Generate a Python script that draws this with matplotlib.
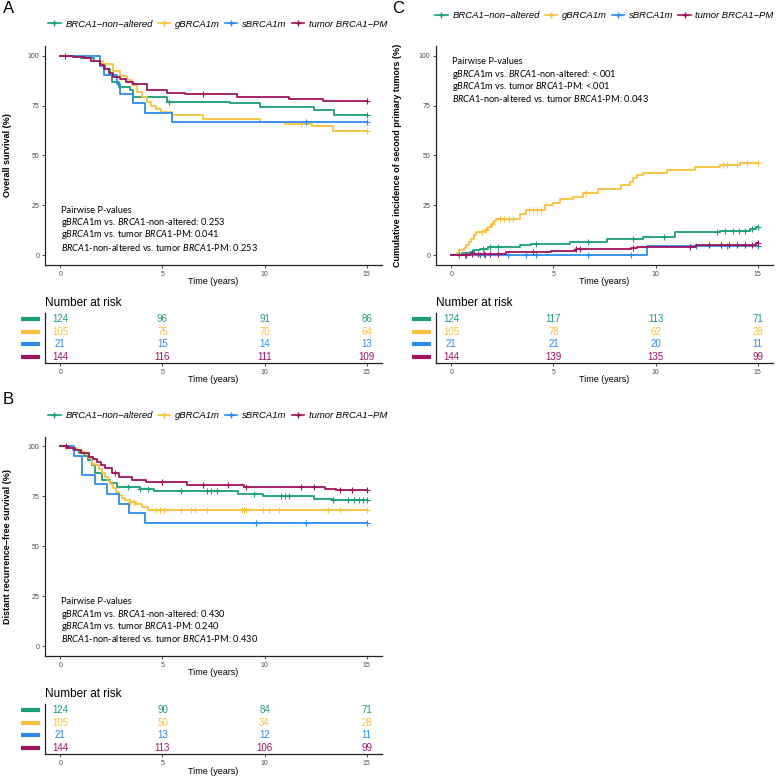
import numpy as np
import matplotlib
matplotlib.use("Agg")
import matplotlib.pyplot as plt
from matplotlib.lines import Line2D

plt.rcParams["font.family"] = ["Liberation Sans", "DejaVu Sans"]
plt.rcParams["mathtext.fontset"] = "custom"
plt.rcParams["mathtext.rm"] = "Lato"
plt.rcParams["mathtext.it"] = "Lato:italic"

# groups / colours
groups = ["BRCA1\u2212non\u2212altered", "gBRCA1m", "sBRCA1m", "tumor BRCA1\u2212PM"]
colors = ["#1B9E77", "#F9C23C", "#2A8CF0", "#A0135E"]
risk_times = [0, 5, 10, 15]

# ---- A: overall survival (%) ----
os_nonalt_t = [0, 1.0, 1.63, 1.95, 2.2, 2.44, 2.53, 2.85, 3.42, 3.58, 5.2, 8.3, 9.8, 12.4, 13.4]
os_nonalt_s = [100, 99.2, 97.6, 96, 93.5, 90.5, 87, 84.6, 82.9, 79.6, 77, 76.2, 74.5, 72.9, 70.4]
os_nonalt_c = [5.3, 15.0]
os_g_t = [0, 1.5, 2.1, 2.6, 2.9, 3.25, 3.5, 3.75, 4.0, 4.23, 4.45, 4.7, 4.95, 5.45, 7.0, 9.77, 11.0, 12.3, 13.35]
os_g_s = [100, 97.5, 95.8, 92.5, 90, 88, 85.5, 82, 79.6, 77, 75, 73.5, 72, 70.4, 68.3, 67, 66, 65, 62.5]
os_g_c = [11.8, 15.0]
os_s_t = [0, 1.95, 2.12, 2.77, 2.93, 3.58, 4.15, 5.45]
os_s_s = [100, 95.2, 90.5, 85.7, 81.0, 76.2, 71.4, 66.7]
os_s_c = [12.05, 15.0]
os_pm_t = [0, 0.6, 1.14, 1.5, 1.95, 2.15, 2.36, 2.6, 2.93, 3.2, 3.58, 4.23, 5.2, 6.1, 8.63, 11.2, 12.85]
os_pm_s = [100, 99.3, 98.8, 97.5, 95.5, 93.5, 91.3, 89.5, 88.3, 87, 86, 83, 81.6, 80.8, 79.6, 78.6, 77.6]
os_pm_c = [0.25, 7.0, 15.0]
risk_a = [[124, 96, 91, 86], [105, 75, 70, 64], [21, 15, 14, 13], [144, 116, 111, 109]]
pv_a = ["0.253", "0.041", "0.253"]

# ---- B: distant recurrence-free survival (%) ----
drfs_nonalt_t = [0, 0.3, 0.6, 0.9, 1.15, 1.35, 1.55, 1.71, 2.04, 2.44, 2.77, 3.9, 4.6, 8.7, 9.9, 12.4, 13.35]
drfs_nonalt_s = [100, 99.2, 98.4, 96.8, 95, 93, 90.5, 86.6, 83.2, 81.5, 79.5, 78.5, 77.5, 76.3, 75, 73.8, 73]
drfs_nonalt_c = [3.3, 3.9, 4.3, 5.9, 7.2, 7.4, 7.65, 9.5, 10.8, 11.0, 11.2, 13.35, 14.1, 14.4, 14.6, 14.8, 15.0]
drfs_g_t = [0, 0.5, 0.8, 1.06, 1.2, 1.38, 1.55, 1.7, 1.87, 2.05, 2.2, 2.32, 2.44, 2.6, 2.72, 2.85, 3.0,
            3.17, 3.4, 3.66, 3.99, 4.31]
drfs_g_s = [100, 99, 98.1, 97.1, 96.2, 94.3, 91.4, 90.5, 88.6, 86.7, 84.8, 82.9, 81.0, 79.0, 77.1, 75.7,
            74.3, 73.3, 72.4, 71.4, 69.5, 68.1]
drfs_g_c = [3.4, 3.6, 4.7, 4.9, 5.1, 5.9, 6.4, 6.6, 7.2, 8.9, 9.0, 9.1, 9.9, 10.2, 10.7, 13.1, 13.7, 15.0]
drfs_s_t = [0, 0.65, 1.06, 1.71, 2.28, 2.85, 3.35, 4.15]
drfs_s_s = [100, 95.2, 85.7, 81.0, 76.2, 71.4, 66.7, 61.9]
drfs_s_c = [9.6, 12.05, 15.0]
drfs_pm_t = [0, 0.4, 0.73, 1.0, 1.38, 1.6, 1.79, 2.0, 2.2, 2.52, 2.85, 3.5, 4.2, 6.2, 9.0, 12.95, 13.5]
drfs_pm_s = [100, 99.3, 98.2, 96.5, 94.9, 93.5, 92.4, 90.8, 89, 86.6, 84.9, 83.3, 82.3, 80.7, 79.6, 78.8, 78]
drfs_pm_c = [0.3, 2.7, 5.0, 7.0, 8.2, 9.1, 11.8, 12.4, 13.7, 14.3, 15.0]
risk_b = [[124, 90, 84, 71], [105, 50, 34, 28], [21, 13, 12, 11], [144, 113, 106, 99]]
pv_b = ["0.430", "0.240", "0.430"]

# ---- C: cumulative incidence of second primary tumors (%) ----
ci_nonalt_t = [0, 0.5, 0.9, 1.1, 1.39, 1.8, 3.35, 3.9, 5.8, 7.6, 9.4, 10.95, 13.15, 14.6, 14.9]
ci_nonalt_s = [0, 0.8, 1.6, 2.4, 3.2, 4.0, 4.9, 5.7, 6.6, 8.2, 9.0, 11.4, 12.3, 13.2, 14.0]
ci_nonalt_c = [0.4, 1.0, 1.55, 1.9, 2.3, 4.17, 6.7, 8.9, 10.4, 13.0, 13.4, 13.8, 14.1, 14.4, 14.7, 15.0]
ci_g_t = [0, 0.3, 0.4, 0.6, 0.73, 0.85, 0.98, 1.1, 1.22, 1.63, 1.8, 1.96, 2.1, 2.2, 3.35, 3.68, 4.57, 4.98,
          5.31, 5.96, 6.45, 7.19, 8.33, 8.74, 8.9, 9.07, 9.39, 10.54, 11.93, 13.15, 14.13]
ci_g_s = [0, 1.2, 2.4, 3.6, 4.9, 6.5, 8.2, 10, 11.6, 12.4, 14, 15.8, 17, 18.3, 20.8, 22.5, 25, 26,
          28.4, 29.2, 31, 33.4, 35.1, 36.7, 38.5, 40.1, 41, 42.6, 44.3, 45.1, 46]
ci_g_c = [1.5, 1.7, 2.0, 2.4, 2.6, 2.8, 3.0, 3.8, 4.0, 4.2, 4.4, 6.6, 13.3, 13.5, 14.0, 14.5, 15.0]
ci_s_t = [0, 9.59]
ci_s_s = [0, 4.76]
ci_s_c = [0.4, 0.65, 1.39, 1.63, 2.77, 3.67, 4.17, 6.7, 8.82, 12.0, 13.5, 15.0]
ci_pm_t = [0, 0.9, 2.7, 4.9, 6.1, 8.8, 9.07, 12.0, 14.9]
ci_pm_s = [0, 0.7, 1.4, 2.1, 2.8, 3.5, 4.2, 5.0, 6.0]
ci_pm_c = [0.7, 1.0, 1.3, 1.6, 1.9, 2.3, 4.0, 6.1, 6.3, 8.9, 11.7, 12.6, 13.2, 13.6, 14.0, 14.4, 14.7, 15.0]
risk_c = [[124, 117, 113, 71], [105, 78, 62, 28], [21, 21, 20, 11], [144, 139, 135, 99]]
pv_c = ["<.001", "<.001", "0.043"]

W, H = 778, 776
fig = plt.figure(figsize=(W / 100, H / 100), dpi=100)


def px_axes(left, top, right, bottom):
    return fig.add_axes([left / W, 1 - bottom / H, (right - left) / W, (bottom - top) / H])


def step_curve(ax, t, s, cens, color):
    t = np.asarray(t)
    s = np.asarray(s)
    ax.step(np.append(t, 15), np.append(s, s[-1]), where="post", color=color, lw=1.3)
    c = np.asarray(cens)
    cy = s[np.searchsorted(t, c, side="right") - 1]
    ax.plot(c, cy, ls="none", marker="+", ms=5, mew=0.8, color=color)


def style_axes(ax):
    for side in ["top", "right"]:
        ax.spines[side].set_visible(False)
    for side in ["left", "bottom"]:
        ax.spines[side].set_color("#222222")
        ax.spines[side].set_linewidth(0.9)
    ax.tick_params(length=2, width=0.6, color="#333333", labelsize=5, labelcolor="#4D4D4D", pad=2)
    ax.set_xlim(-0.75, 15.75)
    ax.set_xticks(risk_times)


def main_panel(ax, curves, ylabel, pvals, ptop, leg_x, leg_y):
    for (t, s, c), col in zip(curves, colors):
        step_curve(ax, t, s, c, col)
    style_axes(ax)
    ax.set_ylim(-5, 105)
    ax.set_yticks([0, 25, 50, 75, 100])
    ax.set_xlabel("Time (years)", fontsize=6.5)
    ax.xaxis.set_label_coords(0.5, -0.055)
    ax.set_ylabel(ylabel, fontsize=6.5, fontweight="bold")
    ax.yaxis.set_label_coords(-0.097, 0.5)
    handles = [Line2D([], [], color=c, lw=1.2, marker="+", ms=5, mew=1.0) for c in colors]
    ax.legend(handles, groups, loc="center", bbox_to_anchor=(leg_x, leg_y), ncol=4, frameon=False,
              prop={"style": "italic", "size": 6.8}, handlelength=1.3, handletextpad=0.5,
              columnspacing=0.55, borderaxespad=0)
    lines = ["Pairwise P-values",
             r"g$\mathit{BRCA1}$m vs. $\mathit{BRCA1}$-non-altered: " + pvals[0],
             r"g$\mathit{BRCA1}$m vs. tumor $\mathit{BRCA1}$-PM: " + pvals[1],
             r"$\mathit{BRCA1}$-non-altered vs. tumor $\mathit{BRCA1}$-PM: " + pvals[2]]
    for i, line in enumerate(lines):
        ax.text(0.05, ptop - i * 6.2, line, fontsize=6.7, family="Lato", va="center", ha="left")


def risk_panel(ax, counts):
    style_axes(ax)
    ax.set_ylim(0, 4)
    ax.set_yticks([])
    for i, (row, col) in enumerate(zip(counts, colors)):
        y = 3.5 - i
        for t, n in zip(risk_times, row):
            ax.text(t, y, str(n), color=col, fontsize=7, ha="center", va="center")
        ax.plot([-0.072, -0.016], [y, y], color=col, lw=3,
                transform=ax.get_yaxis_transform(), clip_on=False, solid_capstyle="butt")
    ax.text(0, 1.14, "Number at risk", fontsize=8.5, transform=ax.transAxes, ha="left", va="baseline")
    ax.set_xlabel("Time (years)", fontsize=6.5)
    ax.xaxis.set_label_coords(0.5, -0.25)


# panel A
ax_a = px_axes(45, 46, 382, 265)
main_panel(ax_a, [(os_nonalt_t, os_nonalt_s, os_nonalt_c), (os_g_t, os_g_s, os_g_c),
                  (os_s_t, os_s_s, os_s_c), (os_pm_t, os_pm_s, os_pm_c)],
           "Overall survival (%)", pv_a, 22.5, 0.512, 1.1)
risk_panel(px_axes(45, 313, 382, 363), risk_a)

# panel B
ax_b = px_axes(45, 436.5, 382, 656)
main_panel(ax_b, [(drfs_nonalt_t, drfs_nonalt_s, drfs_nonalt_c), (drfs_g_t, drfs_g_s, drfs_g_c),
                  (drfs_s_t, drfs_s_s, drfs_s_c), (drfs_pm_t, drfs_pm_s, drfs_pm_c)],
           "Distant recurrence\u2212free survival (%)", pv_b, 22.2, 0.512, 1.095)
risk_panel(px_axes(45, 704, 382, 754), risk_b)

# panel C
ax_c = px_axes(436, 46, 773, 265)
main_panel(ax_c, [(ci_nonalt_t, ci_nonalt_s, ci_nonalt_c), (ci_g_t, ci_g_s, ci_g_c),
                  (ci_s_t, ci_s_s, ci_s_c), (ci_pm_t, ci_pm_s, ci_pm_c)],
           "Cumulative incidence of second primary tumors (%)", pv_c, 97.1, 0.5, 1.14)
ax_c.yaxis.set_label_coords(-0.1, 0.5)
risk_panel(px_axes(436, 313, 773, 363), risk_c)

fig.text(3 / W, 1 - 1 / H, "A", fontsize=12, va="top", ha="left")
fig.text(3 / W, 1 - 392 / H, "B", fontsize=12, va="top", ha="left")
fig.text(392 / W, 1 - 1 / H, "C", fontsize=12, va="top", ha="left")

fig.savefig("out.png", dpi=100, facecolor="white")
